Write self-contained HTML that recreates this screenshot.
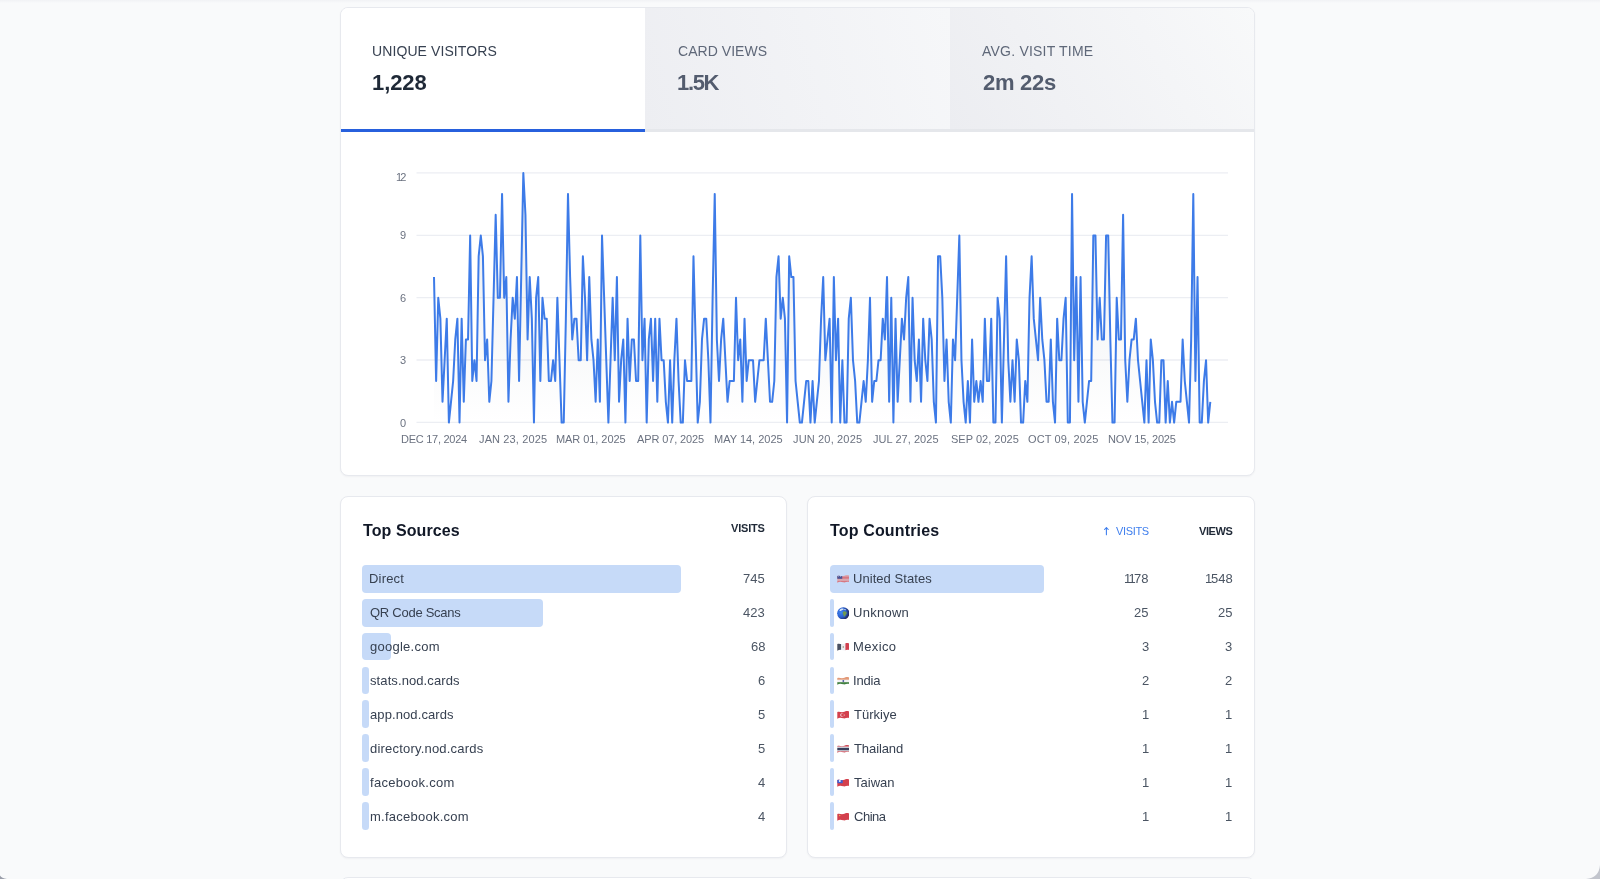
<!DOCTYPE html>
<html lang="en"><head><meta charset="utf-8"><title>Stats</title>
<style>
html,body{margin:0;padding:0}
body{width:1600px;height:879px;overflow:hidden;background:#f9fafb;position:relative;font-family:"Liberation Sans",sans-serif;}
.card{position:absolute;box-sizing:border-box;background:#fff;border:1px solid #e7e9ee;border-radius:8px;box-shadow:0 1px 2px rgba(16,24,40,.04)}
.tab{position:absolute;top:8px;height:121.2px;border-bottom:3.4px solid #e5e7eb}
.t{position:absolute;white-space:nowrap;line-height:20px;height:20px;will-change:transform}
.chart{position:absolute;left:0;top:0}
.bar{position:absolute;height:27.9px;background:#c6daf8}
.flag{position:absolute}
</style></head><body>
<div style="position:absolute;left:0;top:0;width:1600px;height:3px;background:linear-gradient(#f1f2f5,#f9fafb)"></div>
<div class="card" style="left:340px;top:7px;width:915px;height:469.3px;overflow:hidden"></div>
<div class="tab" style="left:341px;width:304px;background:#fff;border-bottom-color:#2760dd;border-top-left-radius:7px"></div>
<div class="tab" style="left:645px;width:304.6px;background:linear-gradient(75deg,#edeef2 0%,#f6f7f9 100%)"></div>
<div class="tab" style="left:949.6px;width:304.4px;background:linear-gradient(60deg,#ecedf1 0%,#f8f9fa 100%);border-top-right-radius:7px"></div>
<div class="card" style="left:340px;top:496.2px;width:447px;height:361.6px"></div>
<div class="card" style="left:807.4px;top:496.2px;width:447.6px;height:361.6px"></div>
<div class="card" style="left:340px;top:877px;width:915px;height:40px"></div>
<svg class="chart" width="1600" height="879" viewBox="0 0 1600 879">
<defs><linearGradient id="ag" x1="0" y1="172.9" x2="0" y2="422.4" gradientUnits="userSpaceOnUse"><stop offset="0" stop-color="#64748b" stop-opacity="0.15"/><stop offset="1" stop-color="#64748b" stop-opacity="0"/></linearGradient></defs>
<g stroke="#eceef3" stroke-width="1.3"><line x1="416.5" x2="1228" y1="422.40" y2="422.40"/><line x1="416.5" x2="1228" y1="360.02" y2="360.02"/><line x1="416.5" x2="1228" y1="297.65" y2="297.65"/><line x1="416.5" x2="1228" y1="235.28" y2="235.28"/><line x1="416.5" x2="1228" y1="172.90" y2="172.90"/></g>
<path d="M434.00,276.86 L436.13,380.82 L438.25,297.65 L440.38,318.44 L442.51,401.61 L444.63,360.02 L446.76,318.44 L448.89,422.40 L451.01,401.61 L453.14,380.82 L455.27,339.23 L457.40,318.44 L459.52,422.40 L461.65,318.44 L463.78,401.61 L465.90,339.23 L468.03,339.23 L470.16,235.28 L472.28,380.82 L474.41,360.02 L476.54,380.82 L478.66,256.07 L480.79,235.28 L482.92,256.07 L485.04,360.02 L487.17,339.23 L489.30,401.61 L491.42,380.82 L493.55,297.65 L495.68,214.48 L497.81,297.65 L499.93,297.65 L502.06,193.69 L504.19,297.65 L506.31,276.86 L508.44,401.61 L510.57,339.23 L512.69,297.65 L514.82,318.44 L516.95,276.86 L519.07,380.82 L521.20,276.86 L523.33,172.90 L525.45,214.48 L527.58,339.23 L529.71,276.86 L531.84,318.44 L533.96,422.40 L536.09,297.65 L538.22,276.86 L540.34,380.82 L542.47,297.65 L544.60,318.44 L546.72,318.44 L548.85,380.82 L550.98,380.82 L553.10,360.02 L555.23,380.82 L557.36,297.65 L559.48,360.02 L561.61,422.40 L563.74,422.40 L565.86,318.44 L567.99,193.69 L570.12,276.86 L572.25,339.23 L574.37,318.44 L576.50,318.44 L578.63,360.02 L580.75,360.02 L582.88,256.07 L585.01,297.65 L587.13,360.02 L589.26,276.86 L591.39,339.23 L593.51,360.02 L595.64,401.61 L597.77,339.23 L599.89,401.61 L602.02,235.28 L604.15,297.65 L606.27,360.02 L608.40,422.40 L610.53,360.02 L612.66,297.65 L614.78,360.02 L616.91,276.86 L619.04,401.61 L621.16,360.02 L623.29,339.23 L625.42,422.40 L627.54,318.44 L629.67,380.82 L631.80,339.23 L633.92,339.23 L636.05,380.82 L638.18,380.82 L640.30,235.28 L642.43,360.02 L644.56,318.44 L646.68,422.40 L648.81,339.23 L650.94,318.44 L653.07,380.82 L655.19,318.44 L657.32,401.61 L659.45,318.44 L661.57,360.02 L663.70,360.02 L665.83,401.61 L667.95,422.40 L670.08,360.02 L672.21,422.40 L674.33,360.02 L676.46,318.44 L678.59,380.82 L680.71,422.40 L682.84,422.40 L684.97,360.02 L687.10,380.82 L689.22,380.82 L691.35,380.82 L693.48,256.07 L695.60,339.23 L697.73,422.40 L699.86,401.61 L701.98,339.23 L704.11,318.44 L706.24,318.44 L708.36,360.02 L710.49,422.40 L712.62,297.65 L714.74,193.69 L716.87,339.23 L719.00,380.82 L721.12,339.23 L723.25,318.44 L725.38,360.02 L727.51,401.61 L729.63,380.82 L731.76,380.82 L733.89,380.82 L736.01,297.65 L738.14,360.02 L740.27,339.23 L742.39,401.61 L744.52,318.44 L746.65,380.82 L748.77,360.02 L750.90,360.02 L753.03,360.02 L755.15,401.61 L757.28,380.82 L759.41,360.02 L761.53,360.02 L763.66,360.02 L765.79,318.44 L767.92,360.02 L770.04,401.61 L772.17,401.61 L774.30,380.82 L776.42,276.86 L778.55,256.07 L780.68,318.44 L782.80,297.65 L784.93,318.44 L787.06,422.40 L789.18,256.07 L791.31,276.86 L793.44,276.86 L795.56,380.82 L797.69,401.61 L799.82,422.40 L801.94,422.40 L804.07,401.61 L806.20,380.82 L808.33,380.82 L810.45,422.40 L812.58,380.82 L814.71,422.40 L816.83,401.61 L818.96,380.82 L821.09,318.44 L823.21,276.86 L825.34,360.02 L827.47,339.23 L829.59,318.44 L831.72,422.40 L833.85,276.86 L835.97,360.02 L838.10,318.44 L840.23,422.40 L842.36,360.02 L844.48,422.40 L846.61,422.40 L848.74,318.44 L850.86,297.65 L852.99,360.02 L855.12,380.82 L857.24,422.40 L859.37,422.40 L861.50,401.61 L863.62,380.82 L865.75,401.61 L867.88,360.02 L870.00,297.65 L872.13,401.61 L874.26,380.82 L876.38,380.82 L878.51,360.02 L880.64,360.02 L882.77,318.44 L884.89,339.23 L887.02,276.86 L889.15,401.61 L891.27,297.65 L893.40,422.40 L895.53,318.44 L897.65,401.61 L899.78,360.02 L901.91,318.44 L904.03,339.23 L906.16,297.65 L908.29,276.86 L910.41,401.61 L912.54,297.65 L914.67,360.02 L916.79,380.82 L918.92,339.23 L921.05,401.61 L923.18,318.44 L925.30,360.02 L927.43,380.82 L929.56,318.44 L931.68,339.23 L933.81,401.61 L935.94,422.40 L938.06,256.07 L940.19,256.07 L942.32,297.65 L944.44,380.82 L946.57,339.23 L948.70,401.61 L950.82,422.40 L952.95,339.23 L955.08,360.02 L957.20,297.65 L959.33,235.28 L961.46,360.02 L963.59,401.61 L965.71,422.40 L967.84,380.82 L969.97,422.40 L972.09,339.23 L974.22,401.61 L976.35,380.82 L978.47,401.61 L980.60,380.82 L982.73,401.61 L984.85,318.44 L986.98,380.82 L989.11,380.82 L991.23,318.44 L993.36,422.40 L995.49,422.40 L997.62,297.65 L999.74,318.44 L1001.87,422.40 L1004.00,339.23 L1006.12,256.07 L1008.25,360.02 L1010.38,401.61 L1012.50,360.02 L1014.63,401.61 L1016.76,339.23 L1018.88,360.02 L1021.01,422.40 L1023.14,422.40 L1025.26,380.82 L1027.39,401.61 L1029.52,297.65 L1031.64,256.07 L1033.77,318.44 L1035.90,339.23 L1038.03,360.02 L1040.15,297.65 L1042.28,339.23 L1044.41,360.02 L1046.53,401.61 L1048.66,401.61 L1050.79,339.23 L1052.91,401.61 L1055.04,422.40 L1057.17,318.44 L1059.29,360.02 L1061.42,360.02 L1063.55,318.44 L1065.67,297.65 L1067.80,422.40 L1069.93,422.40 L1072.05,193.69 L1074.18,360.02 L1076.31,276.86 L1078.44,401.61 L1080.56,276.86 L1082.69,401.61 L1084.82,422.40 L1086.94,401.61 L1089.07,380.82 L1091.20,380.82 L1093.32,235.28 L1095.45,235.28 L1097.58,339.23 L1099.70,297.65 L1101.83,339.23 L1103.96,339.23 L1106.08,235.28 L1108.21,235.28 L1110.34,339.23 L1112.46,422.40 L1114.59,422.40 L1116.72,297.65 L1118.85,339.23 L1120.97,339.23 L1123.10,214.48 L1125.23,360.02 L1127.35,401.61 L1129.48,360.02 L1131.61,339.23 L1133.73,339.23 L1135.86,318.44 L1137.99,360.02 L1140.11,380.82 L1142.24,401.61 L1144.37,422.40 L1146.49,360.02 L1148.62,422.40 L1150.75,339.23 L1152.88,360.02 L1155.00,401.61 L1157.13,422.40 L1159.26,422.40 L1161.38,360.02 L1163.51,360.02 L1165.64,422.40 L1167.76,380.82 L1169.89,422.40 L1172.02,401.61 L1174.14,422.40 L1176.27,401.61 L1178.40,401.61 L1180.52,401.61 L1182.65,339.23 L1184.78,380.82 L1186.90,401.61 L1189.03,422.40 L1191.16,339.23 L1193.29,193.69 L1195.41,380.82 L1197.54,276.86 L1199.67,422.40 L1201.79,422.40 L1203.92,380.82 L1206.05,360.02 L1208.17,422.40 L1210.30,401.61 L1210.30,422.40 L434.00,422.40 Z" fill="url(#ag)"/>
<path d="M434.00,276.86 L436.13,380.82 L438.25,297.65 L440.38,318.44 L442.51,401.61 L444.63,360.02 L446.76,318.44 L448.89,422.40 L451.01,401.61 L453.14,380.82 L455.27,339.23 L457.40,318.44 L459.52,422.40 L461.65,318.44 L463.78,401.61 L465.90,339.23 L468.03,339.23 L470.16,235.28 L472.28,380.82 L474.41,360.02 L476.54,380.82 L478.66,256.07 L480.79,235.28 L482.92,256.07 L485.04,360.02 L487.17,339.23 L489.30,401.61 L491.42,380.82 L493.55,297.65 L495.68,214.48 L497.81,297.65 L499.93,297.65 L502.06,193.69 L504.19,297.65 L506.31,276.86 L508.44,401.61 L510.57,339.23 L512.69,297.65 L514.82,318.44 L516.95,276.86 L519.07,380.82 L521.20,276.86 L523.33,172.90 L525.45,214.48 L527.58,339.23 L529.71,276.86 L531.84,318.44 L533.96,422.40 L536.09,297.65 L538.22,276.86 L540.34,380.82 L542.47,297.65 L544.60,318.44 L546.72,318.44 L548.85,380.82 L550.98,380.82 L553.10,360.02 L555.23,380.82 L557.36,297.65 L559.48,360.02 L561.61,422.40 L563.74,422.40 L565.86,318.44 L567.99,193.69 L570.12,276.86 L572.25,339.23 L574.37,318.44 L576.50,318.44 L578.63,360.02 L580.75,360.02 L582.88,256.07 L585.01,297.65 L587.13,360.02 L589.26,276.86 L591.39,339.23 L593.51,360.02 L595.64,401.61 L597.77,339.23 L599.89,401.61 L602.02,235.28 L604.15,297.65 L606.27,360.02 L608.40,422.40 L610.53,360.02 L612.66,297.65 L614.78,360.02 L616.91,276.86 L619.04,401.61 L621.16,360.02 L623.29,339.23 L625.42,422.40 L627.54,318.44 L629.67,380.82 L631.80,339.23 L633.92,339.23 L636.05,380.82 L638.18,380.82 L640.30,235.28 L642.43,360.02 L644.56,318.44 L646.68,422.40 L648.81,339.23 L650.94,318.44 L653.07,380.82 L655.19,318.44 L657.32,401.61 L659.45,318.44 L661.57,360.02 L663.70,360.02 L665.83,401.61 L667.95,422.40 L670.08,360.02 L672.21,422.40 L674.33,360.02 L676.46,318.44 L678.59,380.82 L680.71,422.40 L682.84,422.40 L684.97,360.02 L687.10,380.82 L689.22,380.82 L691.35,380.82 L693.48,256.07 L695.60,339.23 L697.73,422.40 L699.86,401.61 L701.98,339.23 L704.11,318.44 L706.24,318.44 L708.36,360.02 L710.49,422.40 L712.62,297.65 L714.74,193.69 L716.87,339.23 L719.00,380.82 L721.12,339.23 L723.25,318.44 L725.38,360.02 L727.51,401.61 L729.63,380.82 L731.76,380.82 L733.89,380.82 L736.01,297.65 L738.14,360.02 L740.27,339.23 L742.39,401.61 L744.52,318.44 L746.65,380.82 L748.77,360.02 L750.90,360.02 L753.03,360.02 L755.15,401.61 L757.28,380.82 L759.41,360.02 L761.53,360.02 L763.66,360.02 L765.79,318.44 L767.92,360.02 L770.04,401.61 L772.17,401.61 L774.30,380.82 L776.42,276.86 L778.55,256.07 L780.68,318.44 L782.80,297.65 L784.93,318.44 L787.06,422.40 L789.18,256.07 L791.31,276.86 L793.44,276.86 L795.56,380.82 L797.69,401.61 L799.82,422.40 L801.94,422.40 L804.07,401.61 L806.20,380.82 L808.33,380.82 L810.45,422.40 L812.58,380.82 L814.71,422.40 L816.83,401.61 L818.96,380.82 L821.09,318.44 L823.21,276.86 L825.34,360.02 L827.47,339.23 L829.59,318.44 L831.72,422.40 L833.85,276.86 L835.97,360.02 L838.10,318.44 L840.23,422.40 L842.36,360.02 L844.48,422.40 L846.61,422.40 L848.74,318.44 L850.86,297.65 L852.99,360.02 L855.12,380.82 L857.24,422.40 L859.37,422.40 L861.50,401.61 L863.62,380.82 L865.75,401.61 L867.88,360.02 L870.00,297.65 L872.13,401.61 L874.26,380.82 L876.38,380.82 L878.51,360.02 L880.64,360.02 L882.77,318.44 L884.89,339.23 L887.02,276.86 L889.15,401.61 L891.27,297.65 L893.40,422.40 L895.53,318.44 L897.65,401.61 L899.78,360.02 L901.91,318.44 L904.03,339.23 L906.16,297.65 L908.29,276.86 L910.41,401.61 L912.54,297.65 L914.67,360.02 L916.79,380.82 L918.92,339.23 L921.05,401.61 L923.18,318.44 L925.30,360.02 L927.43,380.82 L929.56,318.44 L931.68,339.23 L933.81,401.61 L935.94,422.40 L938.06,256.07 L940.19,256.07 L942.32,297.65 L944.44,380.82 L946.57,339.23 L948.70,401.61 L950.82,422.40 L952.95,339.23 L955.08,360.02 L957.20,297.65 L959.33,235.28 L961.46,360.02 L963.59,401.61 L965.71,422.40 L967.84,380.82 L969.97,422.40 L972.09,339.23 L974.22,401.61 L976.35,380.82 L978.47,401.61 L980.60,380.82 L982.73,401.61 L984.85,318.44 L986.98,380.82 L989.11,380.82 L991.23,318.44 L993.36,422.40 L995.49,422.40 L997.62,297.65 L999.74,318.44 L1001.87,422.40 L1004.00,339.23 L1006.12,256.07 L1008.25,360.02 L1010.38,401.61 L1012.50,360.02 L1014.63,401.61 L1016.76,339.23 L1018.88,360.02 L1021.01,422.40 L1023.14,422.40 L1025.26,380.82 L1027.39,401.61 L1029.52,297.65 L1031.64,256.07 L1033.77,318.44 L1035.90,339.23 L1038.03,360.02 L1040.15,297.65 L1042.28,339.23 L1044.41,360.02 L1046.53,401.61 L1048.66,401.61 L1050.79,339.23 L1052.91,401.61 L1055.04,422.40 L1057.17,318.44 L1059.29,360.02 L1061.42,360.02 L1063.55,318.44 L1065.67,297.65 L1067.80,422.40 L1069.93,422.40 L1072.05,193.69 L1074.18,360.02 L1076.31,276.86 L1078.44,401.61 L1080.56,276.86 L1082.69,401.61 L1084.82,422.40 L1086.94,401.61 L1089.07,380.82 L1091.20,380.82 L1093.32,235.28 L1095.45,235.28 L1097.58,339.23 L1099.70,297.65 L1101.83,339.23 L1103.96,339.23 L1106.08,235.28 L1108.21,235.28 L1110.34,339.23 L1112.46,422.40 L1114.59,422.40 L1116.72,297.65 L1118.85,339.23 L1120.97,339.23 L1123.10,214.48 L1125.23,360.02 L1127.35,401.61 L1129.48,360.02 L1131.61,339.23 L1133.73,339.23 L1135.86,318.44 L1137.99,360.02 L1140.11,380.82 L1142.24,401.61 L1144.37,422.40 L1146.49,360.02 L1148.62,422.40 L1150.75,339.23 L1152.88,360.02 L1155.00,401.61 L1157.13,422.40 L1159.26,422.40 L1161.38,360.02 L1163.51,360.02 L1165.64,422.40 L1167.76,380.82 L1169.89,422.40 L1172.02,401.61 L1174.14,422.40 L1176.27,401.61 L1178.40,401.61 L1180.52,401.61 L1182.65,339.23 L1184.78,380.82 L1186.90,401.61 L1189.03,422.40 L1191.16,339.23 L1193.29,193.69 L1195.41,380.82 L1197.54,276.86 L1199.67,422.40 L1201.79,422.40 L1203.92,380.82 L1206.05,360.02 L1208.17,422.40 L1210.30,401.61" fill="none" stroke="#3d7be8" stroke-width="2" stroke-linejoin="round" stroke-linecap="butt" transform="translate(0,0.2)"/>
</svg>
<div class="bar" style="left:362.1px;top:564.75px;width:319.4px;border-radius:4px"></div><div class="bar" style="left:362.1px;top:598.67px;width:181.2px;border-radius:4px"></div><div class="bar" style="left:362.1px;top:632.59px;width:28.7px;border-radius:4px"></div><div class="bar" style="left:362.1px;top:666.51px;width:6.5px;border-radius:3.25px"></div><div class="bar" style="left:362.1px;top:700.43px;width:6.5px;border-radius:3.25px"></div><div class="bar" style="left:362.1px;top:734.35px;width:6.5px;border-radius:3.25px"></div><div class="bar" style="left:362.1px;top:768.27px;width:6.5px;border-radius:3.25px"></div><div class="bar" style="left:362.1px;top:802.19px;width:6.5px;border-radius:3.25px"></div><div class="bar" style="left:829.5px;top:564.75px;width:214.6px;border-radius:4px"></div><div class="bar" style="left:829.5px;top:598.67px;width:4.1px;border-radius:2.05px"></div><div class="bar" style="left:829.5px;top:632.59px;width:4.1px;border-radius:2.05px"></div><div class="bar" style="left:829.5px;top:666.51px;width:4.1px;border-radius:2.05px"></div><div class="bar" style="left:829.5px;top:700.43px;width:4.1px;border-radius:2.05px"></div><div class="bar" style="left:829.5px;top:734.35px;width:4.1px;border-radius:2.05px"></div><div class="bar" style="left:829.5px;top:768.27px;width:4.1px;border-radius:2.05px"></div><div class="bar" style="left:829.5px;top:802.19px;width:4.1px;border-radius:2.05px"></div>
<svg class="flag" style="left:836.8px;top:574.20px" width="12.6" height="10" viewBox="0 0 25.2 20"><defs><clipPath id="c0"><path d="M0.6,4.2 C5,1.8 8,5.6 12.6,4.2 S20,1.2 24.6,3 L24.6,16.2 C20,14.4 17,17.6 12.6,16.6 S5,14.6 0.6,17.4 Z"/></clipPath></defs><g clip-path="url(#c0)"><rect width="26" height="20" fill="#e0e0e6"/><rect y="1.0" width="26" height="1.4" fill="#d24a57"/><rect y="3.6" width="26" height="1.4" fill="#d24a57"/><rect y="6.2" width="26" height="1.4" fill="#d24a57"/><rect y="8.8" width="26" height="1.4" fill="#d24a57"/><rect y="11.4" width="26" height="1.4" fill="#d24a57"/><rect y="14.0" width="26" height="1.4" fill="#d24a57"/><rect y="16.6" width="26" height="1.4" fill="#d24a57"/><rect y="19.2" width="26" height="1.4" fill="#d24a57"/><rect x="0" y="0" width="10.5" height="9.6" fill="#4a5596"/><circle cx="3.4" cy="5.2" r="0.9" fill="#dfe3f2"/><circle cx="7" cy="5" r="0.9" fill="#dfe3f2"/></g></svg><svg class="flag" style="left:836.9px;top:606.57px" width="12.6" height="12.6" viewBox="0 0 24 24"><defs><radialGradient id="gg" cx="0.32" cy="0.42" r="0.72"><stop offset="0" stop-color="#3f86f2"/><stop offset="0.55" stop-color="#2a5fd0"/><stop offset="0.85" stop-color="#20306e"/><stop offset="1" stop-color="#1a1f3c"/></radialGradient></defs><circle cx="12" cy="12" r="11.7" fill="url(#gg)"/><path d="M12.5,8.5 C15,7 18.5,8.5 18.5,11.5 C18.5,14 16.5,14.5 15.5,17 C14.8,19 12.8,18.8 12.6,16 C12.4,14 10.8,13.4 10.8,11.6 C10.8,10 11.4,9.2 12.5,8.5Z" fill="#6f9a4e"/><path d="M5,5.5 C7,3 11,2.2 12.5,3.5 C13.5,4.6 11.5,6 9.5,6.2 C8,6.4 7.2,8 5.8,7.6 C4.8,7.2 4.4,6.4 5,5.5Z" fill="#d9e6f4"/><path d="M13.5,4.2 C15.5,3.6 17.5,4.8 16.8,5.8 C16,6.6 14,6 13.5,5.2Z" fill="#b9cbe0"/></svg><svg class="flag" style="left:836.8px;top:642.04px" width="12.6" height="10" viewBox="0 0 25.2 20"><defs><clipPath id="c2"><path d="M0.6,4.2 C5,1.8 8,5.6 12.6,4.2 S20,1.2 24.6,3 L24.6,16.2 C20,14.4 17,17.6 12.6,16.6 S5,14.6 0.6,17.4 Z"/></clipPath></defs><g clip-path="url(#c2)"><rect width="8.6" height="20" fill="#4a5162"/><rect x="8.6" width="8.2" height="20" fill="#eceef2"/><rect x="16.8" width="9" height="20" fill="#d1414f"/><circle cx="12.6" cy="10" r="1.6" fill="#9a8a6a"/></g></svg><svg class="flag" style="left:836.8px;top:675.96px" width="12.6" height="10" viewBox="0 0 25.2 20"><defs><clipPath id="c3"><path d="M0.6,4.2 C5,1.8 8,5.6 12.6,4.2 S20,1.2 24.6,3 L24.6,16.2 C20,14.4 17,17.6 12.6,16.6 S5,14.6 0.6,17.4 Z"/></clipPath></defs><g clip-path="url(#c3)"><rect width="26" height="8" fill="#e39a78"/><rect y="7.4" width="26" height="5.4" fill="#f2f2f4"/><rect y="12.4" width="26" height="8" fill="#3f7f3f"/><circle cx="12.6" cy="10" r="1.8" fill="#4a55a0"/></g></svg><svg class="flag" style="left:836.8px;top:709.88px" width="12.6" height="10" viewBox="0 0 25.2 20"><defs><clipPath id="c4"><path d="M0.6,4.2 C5,1.8 8,5.6 12.6,4.2 S20,1.2 24.6,3 L24.6,16.2 C20,14.4 17,17.6 12.6,16.6 S5,14.6 0.6,17.4 Z"/></clipPath></defs><g clip-path="url(#c4)"><rect width="26" height="20" fill="#d3404d"/><circle cx="10" cy="10" r="3.6" fill="#f4e6e8"/><circle cx="11.2" cy="10" r="2.9" fill="#d3404d"/><circle cx="14.6" cy="10" r="1.1" fill="#f4e6e8"/></g></svg><svg class="flag" style="left:836.8px;top:743.80px" width="12.6" height="10" viewBox="0 0 25.2 20"><defs><clipPath id="c5"><path d="M0.6,4.2 C5,1.8 8,5.6 12.6,4.2 S20,1.2 24.6,3 L24.6,16.2 C20,14.4 17,17.6 12.6,16.6 S5,14.6 0.6,17.4 Z"/></clipPath></defs><g clip-path="url(#c5)"><rect width="26" height="20" fill="#eceef2"/><rect y="0" width="26" height="5.2" fill="#cf4f5b"/><rect y="14.6" width="26" height="6" fill="#cf4f5b"/><rect y="7.6" width="26" height="5" fill="#3a3f5c"/></g></svg><svg class="flag" style="left:836.8px;top:777.72px" width="12.6" height="10" viewBox="0 0 25.2 20"><defs><clipPath id="c6"><path d="M0.6,4.2 C5,1.8 8,5.6 12.6,4.2 S20,1.2 24.6,3 L24.6,16.2 C20,14.4 17,17.6 12.6,16.6 S5,14.6 0.6,17.4 Z"/></clipPath></defs><g clip-path="url(#c6)"><rect width="26" height="20" fill="#d3404d"/><rect width="11.5" height="10.4" fill="#3f5fd0"/><circle cx="5.6" cy="6.2" r="2" fill="#f2f4fa"/></g></svg><svg class="flag" style="left:836.8px;top:811.64px" width="12.6" height="10" viewBox="0 0 25.2 20"><defs><clipPath id="c7"><path d="M0.6,4.2 C5,1.8 8,5.6 12.6,4.2 S20,1.2 24.6,3 L24.6,16.2 C20,14.4 17,17.6 12.6,16.6 S5,14.6 0.6,17.4 Z"/></clipPath></defs><g clip-path="url(#c7)"><rect width="26" height="20" fill="#d3404d"/><circle cx="5.4" cy="7" r="1.5" fill="#e7b04c"/></g></svg>
<svg class="flag" style="left:1103px;top:526px" width="7" height="10" viewBox="0 0 7 10"><path d="M3.4,8.7 V1.6 M1.6,3.5 L3.4,1.5 L5.2,3.5" fill="none" stroke="#3f7fee" stroke-width="1.1" stroke-linecap="round" stroke-linejoin="round"/></svg>
<div class="t" style="left:372.25px;top:40.75px;font-size:14px;font-weight:400;color:#374151;letter-spacing:0.097px;">UNIQUE VISITORS</div><div class="t" style="left:372.40px;top:72.68px;font-size:22px;font-weight:700;color:#1f2937;letter-spacing:-0.080px;">1,228</div><div class="t" style="left:677.70px;top:40.75px;font-size:14px;font-weight:400;color:#5f6879;letter-spacing:0.040px;">CARD VIEWS</div><div class="t" style="left:676.90px;top:72.68px;font-size:22px;font-weight:700;color:#535c6e;letter-spacing:-1.328px;">1.5K</div><div class="t" style="left:982.00px;top:40.75px;font-size:14px;font-weight:400;color:#5f6879;letter-spacing:0.214px;">AVG. VISIT TIME</div><div class="t" style="left:982.50px;top:72.68px;font-size:22px;font-weight:700;color:#535c6e;letter-spacing:-0.296px;">2m 22s</div><div class="t" style="left:395.80px;top:166.69px;font-size:11px;font-weight:400;color:#6b7280;letter-spacing:-1.918px;">12</div><div class="t" style="left:400.00px;top:225.39px;font-size:11px;font-weight:400;color:#6b7280;">9</div><div class="t" style="left:400.00px;top:287.79px;font-size:11px;font-weight:400;color:#6b7280;">6</div><div class="t" style="left:400.00px;top:350.29px;font-size:11px;font-weight:400;color:#6b7280;">3</div><div class="t" style="left:400.00px;top:412.99px;font-size:11px;font-weight:400;color:#6b7280;">0</div><div class="t" style="left:400.90px;top:429.19px;font-size:11px;font-weight:400;color:#6b7280;letter-spacing:-0.271px;">DEC 17, 2024</div><div class="t" style="left:478.75px;top:429.19px;font-size:11px;font-weight:400;color:#6b7280;letter-spacing:0.128px;">JAN 23, 2025</div><div class="t" style="left:556.40px;top:429.19px;font-size:11px;font-weight:400;color:#6b7280;letter-spacing:-0.064px;">MAR 01, 2025</div><div class="t" style="left:636.70px;top:429.19px;font-size:11px;font-weight:400;color:#6b7280;letter-spacing:-0.125px;">APR 07, 2025</div><div class="t" style="left:714.30px;top:429.19px;font-size:11px;font-weight:400;color:#6b7280;">MAY 14, 2025</div><div class="t" style="left:793.10px;top:429.19px;font-size:11px;font-weight:400;color:#6b7280;letter-spacing:0.160px;">JUN 20, 2025</div><div class="t" style="left:873.20px;top:429.19px;font-size:11px;font-weight:400;color:#6b7280;letter-spacing:0.044px;">JUL 27, 2025</div><div class="t" style="left:950.80px;top:429.19px;font-size:11px;font-weight:400;color:#6b7280;letter-spacing:0.012px;">SEP 02, 2025</div><div class="t" style="left:1028.10px;top:429.19px;font-size:11px;font-weight:400;color:#6b7280;letter-spacing:0.129px;">OCT 09, 2025</div><div class="t" style="left:1108.10px;top:429.19px;font-size:11px;font-weight:400;color:#6b7280;letter-spacing:-0.163px;">NOV 15, 2025</div><div class="t" style="left:362.70px;top:521.06px;font-size:16px;font-weight:700;color:#111827;letter-spacing:0.088px;">Top Sources</div><div class="t" style="left:731.40px;top:518.49px;font-size:11px;font-weight:700;color:#1f2937;letter-spacing:-0.201px;">VISITS</div><div class="t" style="left:368.60px;top:569.10px;font-size:13px;font-weight:400;color:#374151;letter-spacing:0.193px;">Direct</div><div class="t" style="left:743.44px;top:569.10px;font-size:13px;font-weight:400;color:#4b5563;">745</div><div class="t" style="left:369.60px;top:603.02px;font-size:13px;font-weight:400;color:#374151;letter-spacing:-0.261px;">QR Code Scans</div><div class="t" style="left:743.44px;top:603.02px;font-size:13px;font-weight:400;color:#4b5563;">423</div><div class="t" style="left:369.60px;top:636.94px;font-size:13px;font-weight:400;color:#374151;letter-spacing:0.258px;">google.com</div><div class="t" style="left:750.67px;top:636.94px;font-size:13px;font-weight:400;color:#4b5563;">68</div><div class="t" style="left:369.60px;top:670.86px;font-size:13px;font-weight:400;color:#374151;letter-spacing:0.096px;">stats.nod.cards</div><div class="t" style="left:757.90px;top:670.86px;font-size:13px;font-weight:400;color:#4b5563;">6</div><div class="t" style="left:369.60px;top:704.78px;font-size:13px;font-weight:400;color:#374151;letter-spacing:0.101px;">app.nod.cards</div><div class="t" style="left:757.90px;top:704.78px;font-size:13px;font-weight:400;color:#4b5563;">5</div><div class="t" style="left:369.60px;top:738.70px;font-size:13px;font-weight:400;color:#374151;letter-spacing:0.201px;">directory.nod.cards</div><div class="t" style="left:757.90px;top:738.70px;font-size:13px;font-weight:400;color:#4b5563;">5</div><div class="t" style="left:369.60px;top:772.62px;font-size:13px;font-weight:400;color:#374151;letter-spacing:0.309px;">facebook.com</div><div class="t" style="left:757.90px;top:772.62px;font-size:13px;font-weight:400;color:#4b5563;">4</div><div class="t" style="left:369.60px;top:806.54px;font-size:13px;font-weight:400;color:#374151;letter-spacing:0.250px;">m.facebook.com</div><div class="t" style="left:757.90px;top:806.54px;font-size:13px;font-weight:400;color:#4b5563;">4</div><div class="t" style="left:830.00px;top:521.06px;font-size:16px;font-weight:700;color:#111827;letter-spacing:0.154px;">Top Countries</div><div class="t" style="left:1115.90px;top:520.79px;font-size:11px;font-weight:400;color:#3f7fee;letter-spacing:-0.341px;">VISITS</div><div class="t" style="left:1198.80px;top:520.79px;font-size:11px;font-weight:700;color:#1f2937;letter-spacing:-0.403px;">VIEWS</div><div class="t" style="left:852.50px;top:569.10px;font-size:13px;font-weight:400;color:#374151;letter-spacing:0.055px;">United States</div><div class="t" style="left:1124.17px;top:569.10px;font-size:13px;font-weight:400;color:#4b5563;"><span style="letter-spacing:-1.7px">11</span>78</div><div class="t" style="left:1204.61px;top:569.10px;font-size:13px;font-weight:400;color:#4b5563;"><span style="letter-spacing:-1.2px">1</span>548</div><div class="t" style="left:852.50px;top:603.02px;font-size:13px;font-weight:400;color:#374151;letter-spacing:0.272px;">Unknown</div><div class="t" style="left:1134.27px;top:603.02px;font-size:13px;font-weight:400;color:#4b5563;">25</div><div class="t" style="left:1217.87px;top:603.02px;font-size:13px;font-weight:400;color:#4b5563;">25</div><div class="t" style="left:852.50px;top:636.94px;font-size:13px;font-weight:400;color:#374151;letter-spacing:0.371px;">Mexico</div><div class="t" style="left:1141.50px;top:636.94px;font-size:13px;font-weight:400;color:#4b5563;">3</div><div class="t" style="left:1225.10px;top:636.94px;font-size:13px;font-weight:400;color:#4b5563;">3</div><div class="t" style="left:852.50px;top:670.86px;font-size:13px;font-weight:400;color:#374151;letter-spacing:-0.165px;">India</div><div class="t" style="left:1141.50px;top:670.86px;font-size:13px;font-weight:400;color:#4b5563;">2</div><div class="t" style="left:1225.10px;top:670.86px;font-size:13px;font-weight:400;color:#4b5563;">2</div><div class="t" style="left:853.50px;top:704.78px;font-size:13px;font-weight:400;color:#374151;">Türkiye</div><div class="t" style="left:1141.50px;top:704.78px;font-size:13px;font-weight:400;color:#4b5563;">1</div><div class="t" style="left:1225.10px;top:704.78px;font-size:13px;font-weight:400;color:#4b5563;">1</div><div class="t" style="left:853.50px;top:738.70px;font-size:13px;font-weight:400;color:#374151;letter-spacing:-0.091px;">Thailand</div><div class="t" style="left:1141.50px;top:738.70px;font-size:13px;font-weight:400;color:#4b5563;">1</div><div class="t" style="left:1225.10px;top:738.70px;font-size:13px;font-weight:400;color:#4b5563;">1</div><div class="t" style="left:853.50px;top:772.62px;font-size:13px;font-weight:400;color:#374151;letter-spacing:0.013px;">Taiwan</div><div class="t" style="left:1141.50px;top:772.62px;font-size:13px;font-weight:400;color:#4b5563;">1</div><div class="t" style="left:1225.10px;top:772.62px;font-size:13px;font-weight:400;color:#4b5563;">1</div><div class="t" style="left:853.50px;top:806.54px;font-size:13px;font-weight:400;color:#374151;letter-spacing:-0.484px;">China</div><div class="t" style="left:1141.50px;top:806.54px;font-size:13px;font-weight:400;color:#4b5563;">1</div><div class="t" style="left:1225.10px;top:806.54px;font-size:13px;font-weight:400;color:#4b5563;">1</div>
<svg class="flag" style="left:0;top:859px" width="1600" height="20" viewBox="0 0 1600 20"><path d="M0,16.6 Q1.5,19.4 7,20 L0,20 Z" fill="#9a9eaa"/><path d="M1600,6 Q1599,19 1586,20 L1600,20 Z" fill="#c2c5cd"/></svg>
</body></html>
